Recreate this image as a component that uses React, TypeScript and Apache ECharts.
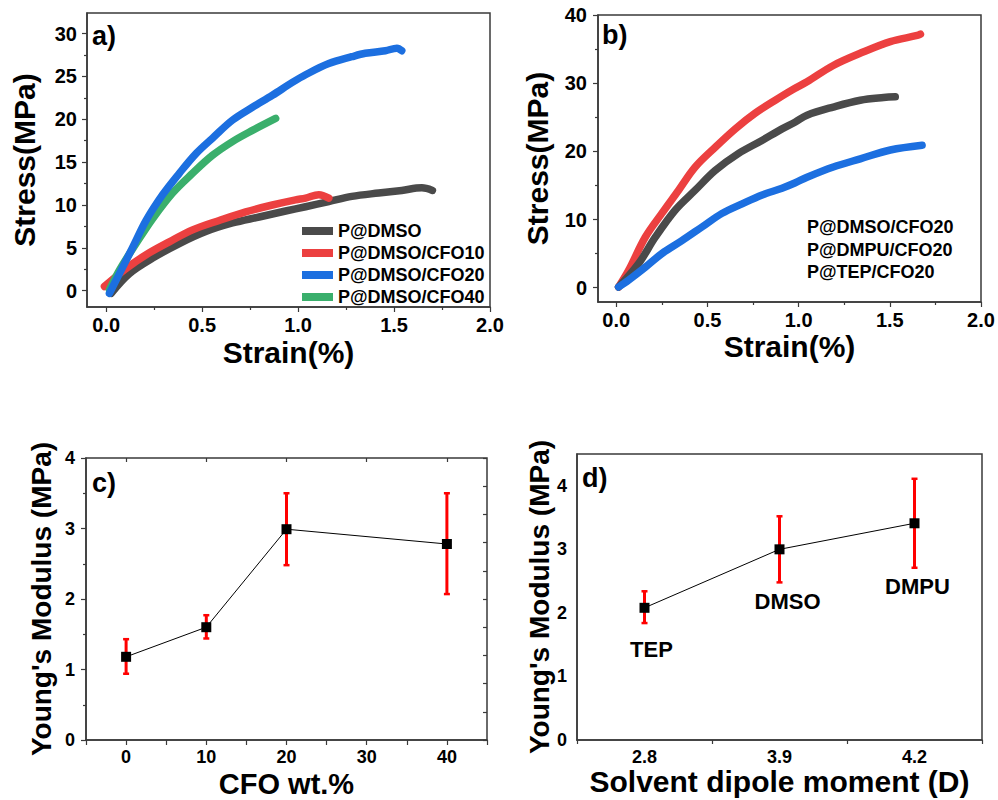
import { useEffect, useRef } from "react";
import * as echarts from "echarts";

const FONT = '"Liberation Sans", Arial, Helvetica, sans-serif';

// ---------- Panel a: stress-strain, CFO content ----------
const legendA = ["P@DMSO", "P@DMSO/CFO10", "P@DMSO/CFO20", "P@DMSO/CFO40"];
const aDMSO = [
  [0.026, -0.3], [0.121, 2.0], [0.242, 3.8], [0.381, 5.5], [0.519, 6.9], [0.658, 7.9],
  [0.797, 8.6], [0.935, 9.3], [1.039, 9.8], [1.16, 10.4], [1.28, 11.0], [1.42, 11.4],
  [1.54, 11.7], [1.645, 12.0], [1.7, 11.7],
];
const aCFO10 = [
  [-0.009, 0.5], [0.104, 2.6], [0.208, 4.2], [0.329, 5.7], [0.45, 7.1], [0.589, 8.2],
  [0.727, 9.2], [0.866, 10.0], [0.987, 10.6], [1.039, 10.8], [1.108, 11.2], [1.16, 10.8],
];
const aCFO20 = [
  [0.017, -0.3], [0.069, 2.0], [0.139, 5.1], [0.208, 8.2], [0.294, 11.2], [0.381, 13.7],
  [0.468, 16.0], [0.554, 17.8], [0.658, 19.9], [0.762, 21.4], [0.866, 22.8], [0.97, 24.3],
  [1.039, 25.2], [1.16, 26.5], [1.28, 27.3], [1.35, 27.7], [1.455, 28.0], [1.515, 28.3], [1.54, 28.0],
];
const aCFO40 = [
  [0.017, 0.1], [0.069, 2.4], [0.156, 5.5], [0.242, 8.4], [0.346, 11.4], [0.45, 13.7],
  [0.554, 15.8], [0.658, 17.4], [0.762, 18.7], [0.883, 20.1],
];

// ---------- Panel b: stress-strain, solvent ----------
const legendB = ["P@DMSO/CFO20", "P@DMPU/CFO20", "P@TEP/CFO20"];
const bDMSO = [
  [0.013, 0.1], [0.122, 3.5], [0.214, 7.4], [0.324, 11.4], [0.433, 14.3], [0.543, 17.2],
  [0.671, 19.7], [0.799, 21.6], [0.909, 23.3], [0.982, 24.3], [1.046, 25.3], [1.19, 26.5],
  [1.338, 27.5], [1.466, 27.9], [1.53, 28.0],
];
const bDMPU = [
  [0.013, 0.1], [0.067, 2.5], [0.159, 7.4], [0.25, 10.9], [0.342, 14.3], [0.433, 17.7],
  [0.543, 20.6], [0.653, 23.3], [0.762, 25.6], [0.872, 27.5], [0.964, 29.0], [1.046, 30.2],
  [1.19, 32.6], [1.357, 34.6], [1.503, 36.1], [1.65, 37.0], [1.668, 37.2],
];
const bTEP = [
  [0.013, 0.1], [0.067, 1.1], [0.159, 3.0], [0.25, 5.0], [0.36, 6.9], [0.47, 8.9],
  [0.58, 10.9], [0.69, 12.3], [0.8, 13.6], [0.909, 14.6], [0.982, 15.4], [1.046, 16.2],
  [1.19, 17.7], [1.338, 18.9], [1.503, 20.2], [1.677, 20.9],
];

// ---------- tick values ----------
const strainLabels = [0, 0.5, 1.0, 1.5, 2.0];
const strainMinor = [0.25, 0.75, 1.25, 1.75];
const stressLabelsA = [0, 5, 10, 15, 20, 25, 30];
const stressMinorA = [2.5, 7.5, 12.5, 17.5, 22.5, 27.5];
const stressLabelsB = [0, 10, 20, 30, 40];
const stressMinorB = [5, 15, 25, 35];
const cfoTicks = [-5, 0, 5, 10, 15, 20, 25, 30, 35, 40, 45];
const cfoLabels = [0, 10, 20, 30, 40];
const cfoTopTicks = [0, 10, 20, 30, 40];
const modTicksRightC = [0, 0.4, 0.8, 1.2, 1.6, 2.0, 2.4, 2.8, 3.2, 3.6, 4.0];
const modLabelsD = [0, 1, 2, 3, 4];

// ---------- Panel c: Young's modulus vs CFO wt.% ----------
const cfoWt = [0, 10, 20, 40];
const modulusC = [1.18, 1.6, 2.99, 2.78];
const errLowC = [0.94, 1.44, 2.48, 2.07];
const errHighC = [1.43, 1.77, 3.5, 3.5];

// ---------- Panel d: Young's modulus vs dipole moment ----------
const dipole = ["2.8", "3.9", "4.2"];
const solvents = ["TEP", "DMSO", "DMPU"];
const modulusD = [2.08, 3.0, 3.41];
const errLowD = [1.84, 2.48, 2.71];
const errHighD = [2.34, 3.52, 4.11];

const GRAY = "#4a4a4a";
const RED = "#ec4040";
const BLUE = "#1c6fe0";
const GREEN = "#3aaf6c";
const FRAME = "#3a3a3a";

const txt = (size: number) => ({
  color: "#000",
  fontFamily: FONT,
  fontWeight: "bold" as const,
  fontSize: size,
});

const axisLine = { show: true, onZero: false, lineStyle: { color: FRAME, width: 1.5 } };
const noLine = { show: false, onZero: false };
const tickStyle = { color: FRAME, width: 1.2 };

const errorRender = (params: any, api: any) => {
  const x = api.value(0);
  const lo = api.coord([x, api.value(1)]);
  const hi = api.coord([x, api.value(2)]);
  const cap = 3;
  const style = { stroke: "#ff0000", lineWidth: 3 };
  return {
    type: "group",
    children: [
      { type: "line", shape: { x1: lo[0], y1: lo[1], x2: hi[0], y2: hi[1] }, style },
      { type: "line", shape: { x1: lo[0] - cap, y1: lo[1], x2: lo[0] + cap, y2: lo[1] }, style: { ...style, lineWidth: 2.5 } },
      { type: "line", shape: { x1: hi[0] - cap, y1: hi[1], x2: hi[0] + cap, y2: hi[1] }, style: { ...style, lineWidth: 2.5 } },
    ],
  };
};

const curve = (name: string, data: number[][], color: string, xi: number) => ({
  name,
  type: "line",
  xAxisIndex: xi,
  yAxisIndex: xi,
  data,
  smooth: 0.35,
  showSymbol: false,
  symbol: "none",
  color,
  lineStyle: { color, width: 7.5, cap: "round", join: "round" },
  z: 3,
});

const labelOffsetsD = [[7, 42], [8, 52], [3, 63]];

export default function App() {
  const ref = useRef<HTMLDivElement>(null);

  useEffect(() => {
    if (!ref.current) return;
    const chart = echarts.init(ref.current, undefined, { renderer: "svg" });

    const grids = [
      { left: 87, top: 13, width: 403, height: 294 },
      { left: 598, top: 15, width: 383, height: 287 },
      { left: 86, top: 458, width: 401, height: 282 },
      { left: 577, top: 454, width: 405, height: 286 },
    ].map((g) => ({ ...g, show: true, borderColor: FRAME, borderWidth: 1.5, backgroundColor: "transparent" }));

    const strainAxis = (gi: number, gap: number) => ({
      gridIndex: gi,
      type: "value",
      min: -0.1,
      max: 2.0,
      axisLine,
      axisTick: { show: true, inside: false, length: 5, customValues: strainLabels, lineStyle: tickStyle },
      axisLabel: { ...txt(20), margin: 8, customValues: strainLabels, formatter: (v: number) => v.toFixed(1) },
      splitLine: { show: false },
      name: "Strain(%)",
      nameLocation: "middle",
      nameGap: gap,
      nameTextStyle: txt(30),
    });

    const minorX = (gi: number, vals: number[], min: number, max: number) => ({
      gridIndex: gi,
      type: "value",
      position: "bottom",
      offset: 0,
      min,
      max,
      axisLine: noLine,
      axisTick: { show: true, inside: false, length: 3, customValues: vals, lineStyle: tickStyle },
      axisLabel: { show: false },
      splitLine: { show: false },
    });
    const minorY = (gi: number, vals: number[], min: number, max: number) => ({
      gridIndex: gi,
      type: "value",
      position: "left",
      offset: 0,
      min,
      max,
      axisLine: noLine,
      axisTick: { show: true, inside: false, length: 3, customValues: vals, lineStyle: tickStyle },
      axisLabel: { show: false },
      splitLine: { show: false },
    });

    const option: any = {
      animation: false,
      backgroundColor: "#fff",
      textStyle: { fontFamily: FONT },
      grid: grids,
      xAxis: [
        strainAxis(0, 30),
        strainAxis(1, 29),
        {
          gridIndex: 2,
          type: "value",
          min: -5,
          max: 45,
          axisLine,
          axisTick: { show: true, length: 5, customValues: cfoTicks, lineStyle: tickStyle },
          axisLabel: { ...txt(18), margin: 8, customValues: cfoLabels },
          splitLine: { show: false },
          name: "CFO wt.%",
          nameLocation: "middle",
          nameGap: 29,
          nameTextStyle: txt(29),
        },
        {
          gridIndex: 3,
          type: "category",
          data: dipole,
          boundaryGap: true,
          axisLine,
          axisTick: { show: true, length: 4, alignWithLabel: false, lineStyle: tickStyle },
          axisLabel: { ...txt(18), margin: 8 },
          splitLine: { show: false },
          name: "Solvent dipole moment (D)",
          nameLocation: "middle",
          nameGap: 25,
          nameTextStyle: txt(30),
        },
        {
          gridIndex: 2,
          type: "value",
          position: "top",
          min: -5,
          max: 45,
          axisLine: noLine,
          axisTick: { show: true, inside: true, length: 4, customValues: cfoTopTicks, lineStyle: tickStyle },
          axisLabel: { show: false },
          splitLine: { show: false },
        },
        minorX(0, strainMinor, -0.1, 2.0),
        minorX(1, strainMinor, -0.1, 2.0),
      ],
      yAxis: [
        {
          gridIndex: 0,
          type: "value",
          position: "left",
          min: -1.9,
          max: 32.4,
          axisLine,
          axisTick: { show: true, length: 5, customValues: stressLabelsA, lineStyle: tickStyle },
          axisLabel: { ...txt(20), margin: 10, customValues: stressLabelsA },
          splitLine: { show: false },
          name: "Stress(MPa)",
          nameLocation: "middle",
          nameGap: 48,
          nameTextStyle: txt(30),
        },
        {
          gridIndex: 1,
          type: "value",
          position: "left",
          min: -2.1,
          max: 40,
          axisLine,
          axisTick: { show: true, length: 5, customValues: stressLabelsB, lineStyle: tickStyle },
          axisLabel: { ...txt(20), margin: 11, customValues: stressLabelsB },
          splitLine: { show: false },
          name: "Stress(MPa)",
          nameLocation: "middle",
          nameGap: 46,
          nameTextStyle: txt(30),
        },
        {
          gridIndex: 2,
          type: "value",
          position: "left",
          min: 0,
          max: 4,
          interval: 1,
          axisLine,
          axisTick: { show: true, length: 5, lineStyle: tickStyle },
          minorTick: { show: true, splitNumber: 2, length: 3, lineStyle: tickStyle },
          axisLabel: { ...txt(18), margin: 11 },
          splitLine: { show: false },
          name: "Young's Modulus (MPa)",
          nameLocation: "middle",
          nameGap: 31,
          nameTextStyle: txt(28),
        },
        {
          gridIndex: 3,
          type: "value",
          position: "left",
          min: 0,
          max: 4.5,
          axisLine,
          axisTick: { show: false },
          axisLabel: { ...txt(18), margin: 10, customValues: modLabelsD },
          splitLine: { show: false },
          name: "Young's Modulus (MPa)",
          nameLocation: "middle",
          nameGap: 24,
          nameTextStyle: txt(28),
        },
        {
          gridIndex: 2,
          type: "value",
          position: "right",
          min: 0,
          max: 4,
          axisLine: noLine,
          axisTick: { show: true, inside: true, length: 4, customValues: modTicksRightC, lineStyle: tickStyle },
          axisLabel: { show: false },
          splitLine: { show: false },
        },
        minorY(0, stressMinorA, -1.9, 32.4),
        minorY(1, stressMinorB, -2.1, 40),
      ],
      legend: [
        {
          data: legendA,
          left: 297,
          top: 217,
          orient: "vertical",
          icon: "rect",
          itemWidth: 31,
          itemHeight: 8,
          itemGap: 4,
          selectedMode: false,
          textStyle: txt(18),
        },
        {
          data: legendB,
          left: 796,
          top: 213,
          orient: "vertical",
          icon: "none",
          itemWidth: 1,
          itemHeight: 8,
          itemGap: 4.5,
          selectedMode: false,
          textStyle: txt(18),
        },
      ],
      graphic: [
        { type: "text", left: 92, top: 22, style: { text: "a)", font: `bold 27px ${FONT}`, fill: "#000" } },
        { type: "text", left: 602, top: 21, style: { text: "b)", font: `bold 27px ${FONT}`, fill: "#000" } },
        { type: "text", left: 92, top: 469, style: { text: "c)", font: `bold 27px ${FONT}`, fill: "#000" } },
        { type: "text", left: 582, top: 464, style: { text: "d)", font: `bold 27px ${FONT}`, fill: "#000" } },
      ],
      series: [
        curve(legendA[0], aDMSO, GRAY, 0),
        curve(legendA[1], aCFO10, RED, 0),
        curve(legendA[3], aCFO40, GREEN, 0),
        curve(legendA[2], aCFO20, BLUE, 0),
        curve(legendB[1], bDMPU, RED, 1),
        curve(legendB[0], bDMSO, GRAY, 1),
        curve(legendB[2], bTEP, BLUE, 1),
        {
          name: "errC",
          type: "custom",
          xAxisIndex: 2,
          yAxisIndex: 2,
          renderItem: errorRender,
          data: cfoWt.map((x, i) => [x, errLowC[i], errHighC[i]]),
          encode: { x: 0, y: [1, 2] },
          z: 2,
        },
        {
          name: "modulusC",
          type: "line",
          xAxisIndex: 2,
          yAxisIndex: 2,
          data: cfoWt.map((x, i) => [x, modulusC[i]]),
          symbol: "rect",
          symbolSize: 10,
          itemStyle: { color: "#000" },
          lineStyle: { color: "#000", width: 1 },
          z: 5,
        },
        {
          name: "errD",
          type: "custom",
          xAxisIndex: 3,
          yAxisIndex: 3,
          renderItem: errorRender,
          data: dipole.map((_, i) => [i, errLowD[i], errHighD[i]]),
          encode: { x: 0, y: [1, 2] },
          z: 2,
        },
        {
          name: "modulusD",
          type: "line",
          xAxisIndex: 3,
          yAxisIndex: 3,
          data: modulusD.map((v, i) => ({ value: v, label: { offset: labelOffsetsD[i] } })),
          symbol: "rect",
          symbolSize: 10,
          itemStyle: { color: "#000" },
          lineStyle: { color: "#000", width: 1 },
          label: {
            show: true,
            position: "inside",
            formatter: (p: any) => solvents[p.dataIndex],
            ...txt(22),
          },
          z: 5,
        },
      ],
    };

    chart.setOption(option);
    return () => chart.dispose();
  }, []);

  return (
    <div
      ref={ref}
      style={{ position: "absolute", left: 0, top: 0, width: 998, height: 800, background: "#fff" }}
    />
  );
}
